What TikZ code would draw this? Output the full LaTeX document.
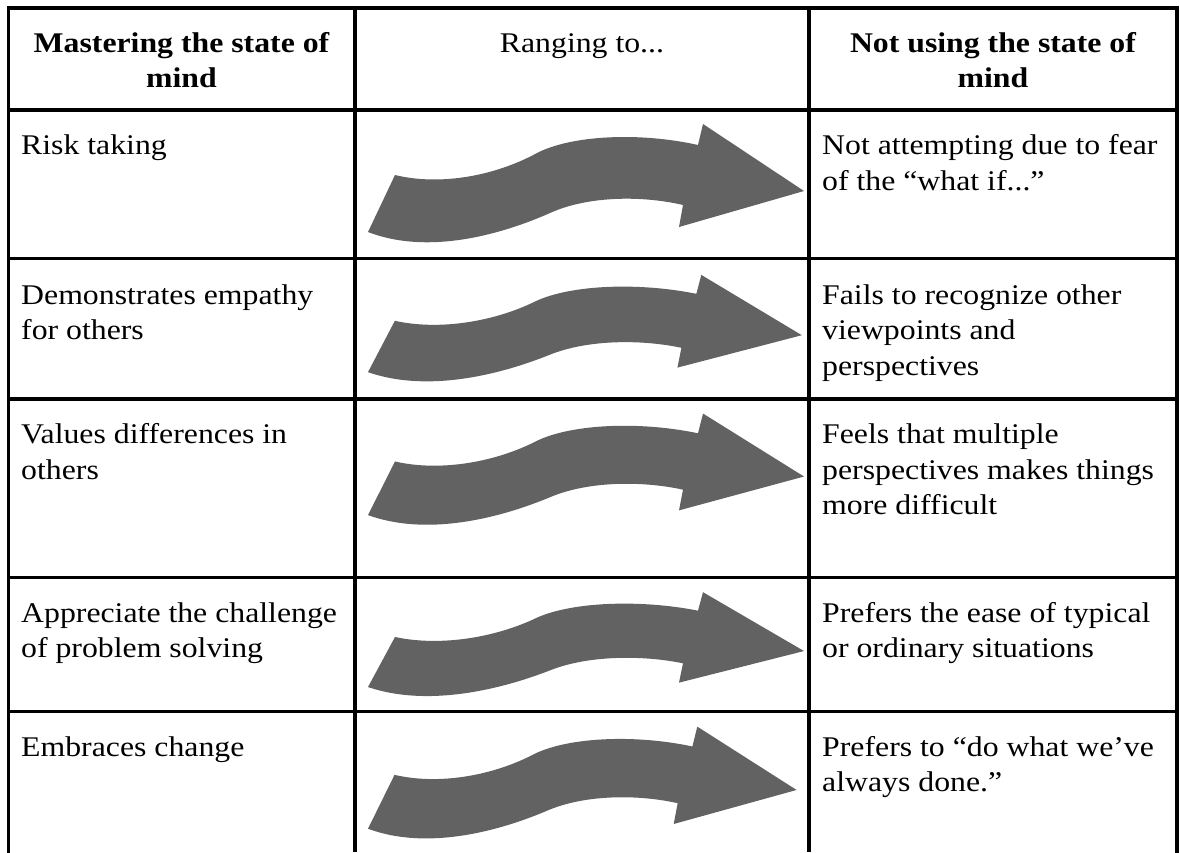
\documentclass[tikz,border=0pt]{standalone}
\usepackage{fontspec}
\setmainfont{Liberation Serif}[FakeStretch=1.115]
\newcommand\cellfont{\fontsize{28.5}{35.5}\selectfont}
\newcommand\lines[1]{\begin{tabular}[t]{@{}l@{}}#1\end{tabular}}
\newcommand\clines[1]{\begin{tabular}[t]{@{}c@{}}#1\end{tabular}}
% wavy block arrow, origin at the left end of its tail
\newcommand\wavearrow{%
  \fill[arrowfill] (27,-8)
    .. controls (72,3) and (127,-7) .. (169,-30)
    .. controls (204,-48) and (272,-51) .. (330,-38)
    -- (335,-59) -- (436,8) -- (311,44) -- (315,22)
    .. controls (277,13) and (222,12) .. (182,30)
    .. controls (137,50) and (62,73) .. (0,49)
    -- cycle;}
\definecolor{arrowgray}{RGB}{98,98,98}
\begin{document}
\begin{tikzpicture}[x=1pt,y=-1pt,
  rule/.style={line width=3.4pt},
  arrowfill/.style={fill=arrowgray},
  cell/.style={anchor=base west, inner sep=0pt, font=\cellfont},
  head/.style={anchor=base, inner sep=0pt, font=\cellfont}]
\useasboundingbox[fill=white] (0,0) rectangle (1180,852);

% grid
\foreach \yy in {110,258.5,399,577.5,711.5}
  \draw[rule] (8.5,\yy) -- (1177,\yy);
\draw[rule, line cap=rect] (8.5,852) -- (8.5,8) -- (1177,8) -- (1177,852);
\draw[rule] (355,8) -- (355,852);
\draw[rule] (809,8) -- (809,852);

% header
\node[head] (h1) at (181.5,52) {\clines{\bfseries Mastering the state of\\\bfseries mind}};
\node[head] (h2) at (582,52) {\clines{Ranging to...}};
\node[head] (h3) at (993,52) {\clines{\bfseries Not using the state of\\\bfseries mind}};

% left column
\node[cell] (l1) at (21,154.5) {\lines{Risk taking}};
\node[cell] (l2) at (21,304) {\lines{Demonstrates empathy\\for others}};
\node[cell] (l3) at (21,443.5) {\lines{Values differences in\\others}};
\node[cell] (l4) at (21,622) {\lines{Appreciate the challenge\\of problem solving}};
\node[cell] (l5) at (21,756) {\lines{Embraces change}};

% right column
\node[cell] (r1) at (822,154.5) {\lines{Not attempting due to fear\\of the “what if...”}};
\node[cell] (r2) at (822,304) {\lines{Fails to recognize other\\viewpoints and\\perspectives}};
\node[cell] (r3) at (822,443.5) {\lines{Feels that multiple\\perspectives makes things\\more difficult}};
\node[cell] (r4) at (822,622) {\lines{Prefers the ease of typical\\or ordinary situations}};
\node[cell] (r5) at (822,756) {\lines{Prefers to “do what we’ve\\always done.”}};

% middle column arrows
\begin{scope}[shift={(368,183)}] \wavearrow \end{scope}
\begin{scope}[shift={(368,328)}, xscale=0.995, yscale=0.9] \wavearrow \end{scope}
\begin{scope}[shift={(368,469)}, yscale=0.94] \wavearrow \end{scope}
\begin{scope}[shift={(368,644)}, yscale=0.878] \wavearrow \end{scope}
\begin{scope}[shift={(368,782.4)}, xscale=0.983, yscale=0.945] \wavearrow \end{scope}
\end{tikzpicture}
\end{document}
